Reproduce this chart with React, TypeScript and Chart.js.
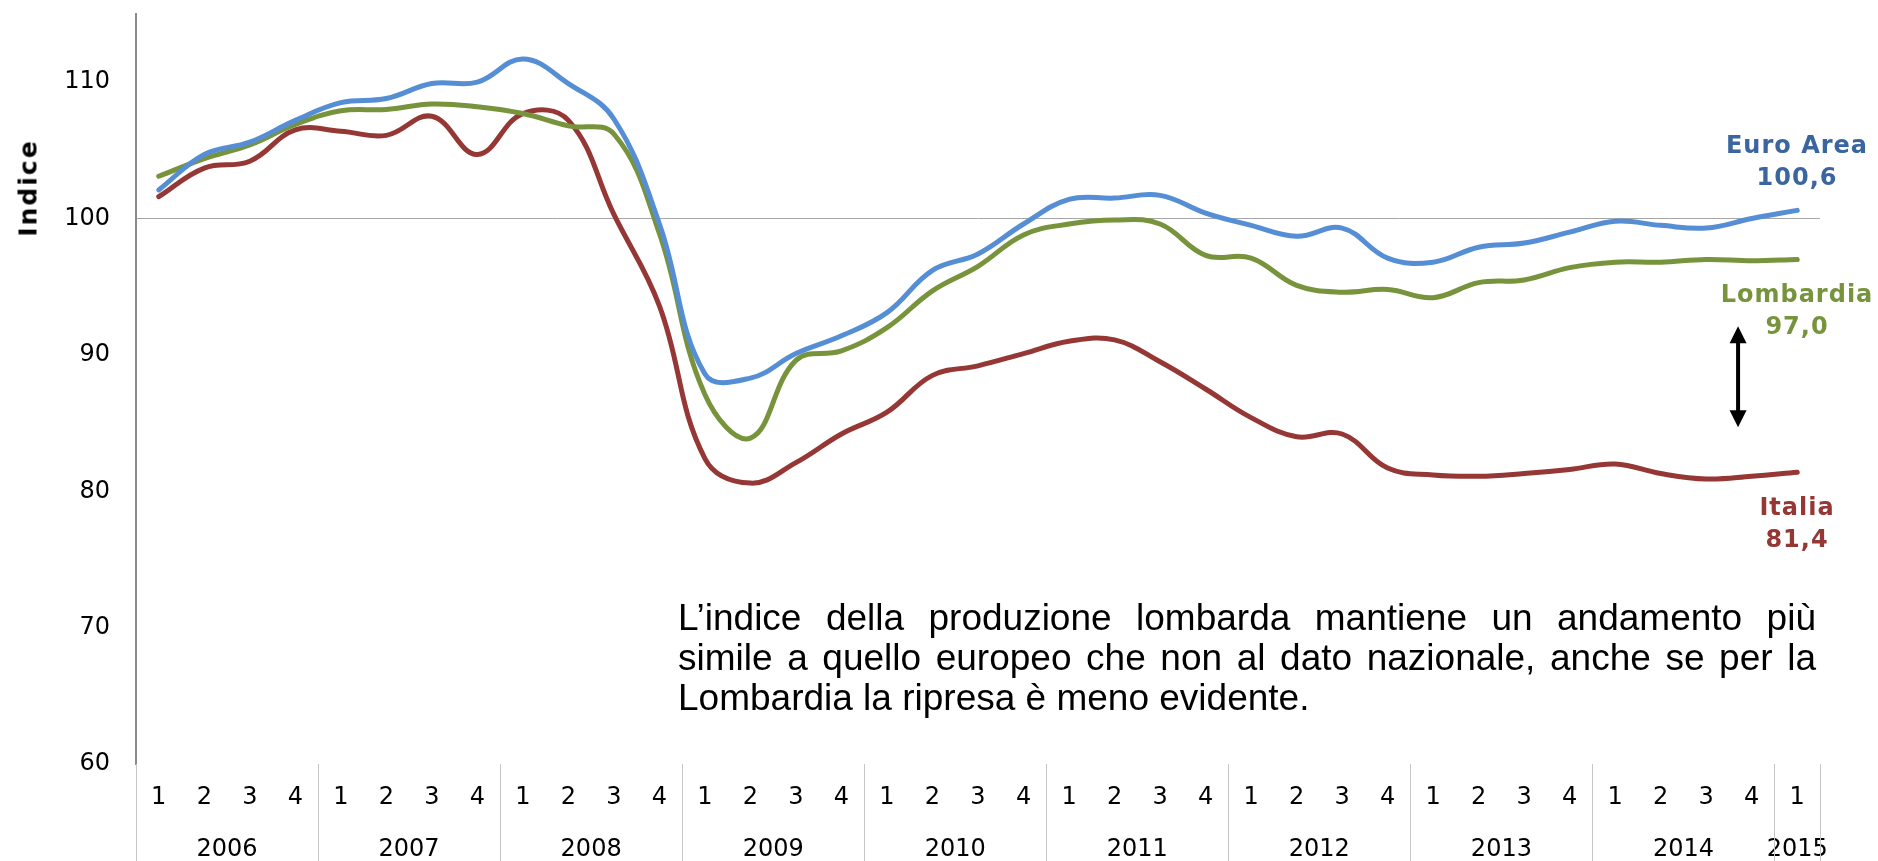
import React, { useEffect, useRef } from 'react';
import { Chart, registerables } from 'chart.js';

Chart.register(...registerables);

// ---------- data ----------
const QUARTERS = [
  '1', '2', '3', '4', '1', '2', '3', '4', '1', '2', '3', '4',
  '1', '2', '3', '4', '1', '2', '3', '4', '1', '2', '3', '4',
  '1', '2', '3', '4', '1', '2', '3', '4', '1', '2', '3', '4', '1',
];
const YEARS = [
  '2006', '2006', '2006', '2006', '2007', '2007', '2007', '2007',
  '2008', '2008', '2008', '2008', '2009', '2009', '2009', '2009',
  '2010', '2010', '2010', '2010', '2011', '2011', '2011', '2011',
  '2012', '2012', '2012', '2012', '2013', '2013', '2013', '2013',
  '2014', '2014', '2014', '2014', '2015',
];
const EURO_AREA = [
  102.1, 104.7, 105.6, 107.2, 108.5, 108.8, 109.9, 110.0, 111.7, 109.9, 107.3, 99.6,
  88.6, 88.3, 90.1, 91.4, 93.1, 96.2, 97.4, 99.6, 101.4, 101.5, 101.7, 100.4,
  99.5, 98.7, 99.3, 97.1, 96.8, 97.9, 98.2, 99.0, 99.8, 99.5, 99.3, 100.0, 100.6,
];
const LOMBARDIA = [
  103.1, 104.4, 105.4, 106.9, 107.9, 108.0, 108.4, 108.2, 107.7, 106.8, 106.2, 98.9,
  87.1, 83.9, 89.6, 90.3, 92.0, 94.7, 96.5, 98.8, 99.6, 99.9, 99.6, 97.3,
  97.1, 95.1, 94.6, 94.8, 94.2, 95.3, 95.5, 96.4, 96.8, 96.8, 97.0, 96.9, 97.0,
];
const ITALIA = [
  101.6, 103.7, 104.2, 106.5, 106.4, 106.1, 107.5, 104.7, 107.7, 107.2, 100.3, 93.6,
  82.4, 80.6, 82.1, 84.2, 85.8, 88.5, 89.2, 90.1, 91.0, 91.1, 89.5, 87.5,
  85.4, 84.0, 84.2, 81.7, 81.2, 81.1, 81.3, 81.6, 82.0, 81.3, 80.9, 81.1, 81.4,
];
const Y_TICKS = [60, 70, 80, 90, 100, 110];
const Y_MIN = 60;
const Y_MAX = 115;
const REFERENCE_VALUE = 100;
const ARROW_AT = 34.7; // category position
const ARROW_FROM = 92.1;
const ARROW_TO = 84.7;

const SERIES_NAMES = ['Euro Area', 'Lombardia', 'Italia'];
const LAST_VALUES = ['100,6', '97,0', '81,4'];

// ---------- styling ----------
const W = 1878;
const H = 861;
const LINE_COLORS = ['#558ED5', '#77933C', '#953735'];
const LABEL_COLORS = ['#3A659E', '#77933C', '#953735'];
const LABEL_TOPS = [145, 294, 507]; // centre of the name line
const LABEL_GAP = 32;
const LABEL_CENTER_X = 1797;

const TICK_FONT = { family: '"DejaVu Sans", Verdana, sans-serif', size: 24 };

// year groups computed from the category arrays
const yearGroups = (() => {
  const groups: { label: string; start: number; end: number }[] = [];
  YEARS.forEach((y, i) => {
    const last = groups[groups.length - 1];
    if (last && last.label === y) last.end = i;
    else groups.push({ label: y, start: i, end: i });
  });
  return groups;
})();

const separatorPlugin = {
  id: 'yearSeparators',
  afterDraw(chart: any) {
    const x2 = chart.scales.x2;
    const ctx = chart.ctx;
    const top = chart.chartArea.bottom;
    ctx.save();
    ctx.strokeStyle = '#C6C6C6';
    ctx.lineWidth = 1;
    const bounds = yearGroups.map((g) => g.start - 0.5);
    bounds.push(yearGroups[yearGroups.length - 1].end + 0.5);
    bounds.forEach((b) => {
      const px = Math.round(x2.getPixelForValue(b)) + 0.5;
      ctx.beginPath();
      ctx.moveTo(px, top);
      ctx.lineTo(px, chart.height);
      ctx.stroke();
    });
    ctx.restore();
  },
};

const arrowPlugin = {
  id: 'gapArrow',
  afterDatasetsDraw(chart: any) {
    const x2 = chart.scales.x2;
    const y = chart.scales.y;
    const ctx = chart.ctx;
    const px = x2.getPixelForValue(ARROW_AT);
    const y1 = y.getPixelForValue(ARROW_FROM);
    const y2 = y.getPixelForValue(ARROW_TO);
    const head = 17;
    const half = 8.5;
    ctx.save();
    ctx.fillStyle = '#000';
    ctx.strokeStyle = '#000';
    ctx.lineWidth = 4;
    ctx.beginPath();
    ctx.moveTo(px, y1 + head - 2);
    ctx.lineTo(px, y2 - head + 2);
    ctx.stroke();
    ctx.beginPath();
    ctx.moveTo(px, y1);
    ctx.lineTo(px - half, y1 + head);
    ctx.lineTo(px + half, y1 + head);
    ctx.closePath();
    ctx.fill();
    ctx.beginPath();
    ctx.moveTo(px, y2);
    ctx.lineTo(px - half, y2 - head);
    ctx.lineTo(px + half, y2 - head);
    ctx.closePath();
    ctx.fill();
    ctx.restore();
  },
};

export default function App() {
  const canvasRef = useRef<HTMLCanvasElement>(null);

  useEffect(() => {
    document.body.style.margin = '0';
    const canvas = canvasRef.current;
    if (!canvas) return;
    const series = [EURO_AREA, LOMBARDIA, ITALIA];
    const chart = new Chart(canvas, {
      type: 'line',
      data: {
        labels: QUARTERS,
        datasets: series.map((d, i) => ({
          label: SERIES_NAMES[i],
          data: d,
          borderColor: LINE_COLORS[i],
          backgroundColor: LINE_COLORS[i],
          borderWidth: 5,
          pointRadius: 0,
          tension: 0.4,
          borderCapStyle: 'round',
          borderJoinStyle: 'round',
          fill: false,
        })),
      },
      options: {
        responsive: false,
        animation: false,
        devicePixelRatio: 1,
        layout: { padding: { left: 0, right: 58, top: 14, bottom: 0 } },
        plugins: {
          legend: { display: false },
          tooltip: { enabled: false },
          title: { display: false },
        },
        scales: {
          x: {
            type: 'category',
            position: 'bottom',
            weight: 0,
            offset: true,
            grid: { display: false, drawTicks: false, tickLength: 0 },
            border: { display: false },
            ticks: {
              font: TICK_FONT,
              color: '#000',
              padding: 19,
              autoSkip: false,
              maxRotation: 0,
              minRotation: 0,
            },
            afterFit: (scale: any) => {
              scale.height = 62;
              scale.paddingLeft = 0;
              scale.paddingRight = 0;
            },
          },
          x2: {
            type: 'linear',
            position: 'bottom',
            weight: 1,
            min: -0.5,
            max: QUARTERS.length - 0.5,
            grid: { display: false, drawTicks: false, tickLength: 0 },
            border: { display: false },
            afterBuildTicks: (scale: any) => {
              scale.ticks = yearGroups.map((g) => ({ value: (g.start + g.end) / 2 }));
            },
            ticks: {
              font: TICK_FONT,
              color: '#000',
              padding: 9,
              autoSkip: false,
              maxRotation: 0,
              minRotation: 0,
              callback: (value: any) => {
                const g = yearGroups.find((gr) => (gr.start + gr.end) / 2 === value);
                return g ? g.label : '';
              },
            },
            afterFit: (scale: any) => {
              scale.height = 35;
              scale.paddingLeft = 0;
              scale.paddingRight = 0;
            },
          },
          y: {
            type: 'linear',
            min: Y_MIN,
            max: Y_MAX,
            afterBuildTicks: (scale: any) => {
              scale.ticks = Y_TICKS.map((v) => ({ value: v }));
            },
            grid: {
              drawTicks: false,
              tickLength: 0,
              lineWidth: 1,
              color: (ctx: any) =>
                ctx.tick && ctx.tick.value === REFERENCE_VALUE ? '#A6A6A6' : 'rgba(0,0,0,0)',
            },
            border: { display: true, color: '#8A8A8A', width: 2 },
            ticks: {
              font: TICK_FONT,
              color: '#000',
              padding: 26,
            },
            afterFit: (scale: any) => {
              scale.width = 136;
              scale.paddingTop = 0;
              scale.paddingBottom = 0;
            },
          },
        },
      },
      plugins: [separatorPlugin, arrowPlugin],
    } as any);
    return () => chart.destroy();
  }, []);

  const labelStyle = (color: string, top: number): React.CSSProperties => ({
    position: 'absolute',
    left: LABEL_CENTER_X,
    top: top - 12,
    transform: 'translateX(-50%)',
    font: 'bold 24px "DejaVu Sans", Verdana, sans-serif',
    lineHeight: '24px',
    letterSpacing: '1px',
    whiteSpace: 'nowrap',
    color,
  });

  const paraLine: React.CSSProperties = {
    textAlign: 'justify',
    textAlignLast: 'justify' as any,
  };

  return (
    <div style={{ position: 'relative', width: W, height: H, background: '#fff', overflow: 'hidden' }}>
      <canvas
        ref={canvasRef}
        width={W}
        height={H}
        style={{ position: 'absolute', left: 0, top: 0, width: W, height: H }}
      />
      <div
        style={{
          position: 'absolute',
          left: 27.5,
          top: 187.5,
          transform: 'translate(-50%, -50%) rotate(-90deg)',
          font: 'bold 25px "DejaVu Sans", Verdana, sans-serif',
          letterSpacing: '2px',
          whiteSpace: 'nowrap',
          color: '#000',
          lineHeight: '25px',
        }}
      >
        Indice
      </div>
      {SERIES_NAMES.map((name, i) => (
        <React.Fragment key={name}>
          <div style={labelStyle(LABEL_COLORS[i], LABEL_TOPS[i])}>{name}</div>
          <div style={labelStyle(LABEL_COLORS[i], LABEL_TOPS[i] + LABEL_GAP)}>{LAST_VALUES[i]}</div>
        </React.Fragment>
      ))}
      <div
        style={{
          position: 'absolute',
          left: 678,
          top: 598,
          width: 1138,
          font: '37px "Liberation Sans", Arial, sans-serif',
          lineHeight: '40px',
          color: '#000',
        }}
      >
        <div style={paraLine}>L’indice della produzione lombarda mantiene un andamento più</div>
        <div style={paraLine}>simile a quello europeo che non al dato nazionale, anche se per la</div>
        <div style={{ textAlign: 'left' }}>Lombardia la ripresa è meno evidente.</div>
      </div>
    </div>
  );
}
